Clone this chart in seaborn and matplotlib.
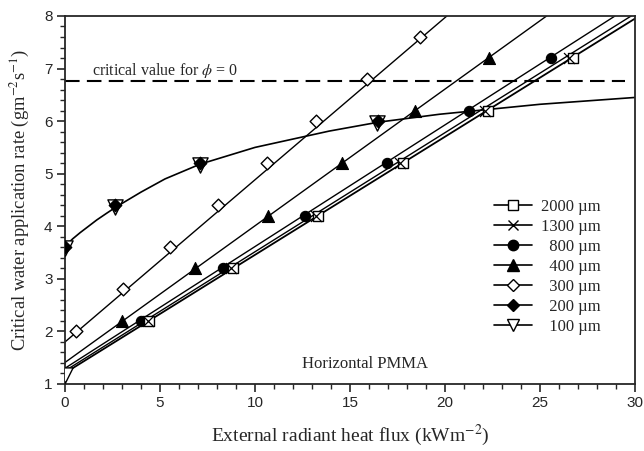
import matplotlib
matplotlib.use('Agg')
import matplotlib.pyplot as plt
from matplotlib.lines import Line2D
import seaborn as sns

# measured points (x = external radiant heat flux, y = critical water rate)
x_2000 = [4.42, 8.82, 13.3, 17.77, 22.25, 26.72]
y_2000 = [2.2, 3.2, 4.2, 5.2, 6.2, 7.2]
x_1300 = [4.35, 8.75, 13.2, 17.65, 22.1, 26.55]
y_1300 = [2.2, 3.2, 4.2, 5.2, 6.2, 7.2]
x_800 = [4.0, 8.3, 12.63, 16.93, 21.26, 25.56]
y_800 = [2.2, 3.2, 4.2, 5.2, 6.2, 7.2]
x_400 = [3.0, 6.84, 10.7, 14.6, 18.4, 22.3]
y_400 = [2.2, 3.2, 4.2, 5.2, 6.2, 7.2]
x_300 = [0.56, 3.03, 5.53, 8.07, 10.65, 13.2, 15.9, 18.7]
y_300 = [2.0, 2.8, 3.6, 4.4, 5.2, 6.0, 6.8, 7.6]
x_200 = [0.0, 2.65, 7.1, 16.45]
y_200 = [3.6, 4.4, 5.2, 6.0]
x_100 = [0.0, 0.0, 2.65, 7.08, 16.4]
y_100 = [1.17, 3.58, 4.36, 5.16, 5.96]

# fitted curves
fit_2000_x, fit_2000_y = [0, 30], [1.21, 7.95]
fit_1300_x, fit_1300_y = [0, 29.8], [1.25, 8.0]
fit_800_x, fit_800_y = [0, 28.95], [1.30, 8.0]
fit_400_x, fit_400_y = [0, 25.35], [1.41, 8.0]
fit_300_x, fit_300_y = [0, 20.1], [1.80, 8.0]
fit_thin_x = [0, 0.4, 0.8, 1.2, 1.67, 2.2, 2.7, 4.0, 5.26, 7.1, 10.0, 13.9, 16.5, 19.7, 25.0, 30.0]
fit_thin_y = [3.62, 3.76, 3.88, 3.99, 4.12, 4.25, 4.37, 4.65, 4.9, 5.18, 5.5, 5.81, 5.98, 6.13, 6.32, 6.45]

critical_value = 6.77

sns.set_style('ticks')
plt.rcParams['font.family'] = ['Liberation Serif', 'DejaVu Serif']
plt.rcParams['mathtext.fontset'] = 'stix'

fig = plt.figure(figsize=(6.44, 4.51), dpi=100)
ax = fig.add_axes([0.101, 0.1486, 0.885, 0.816])

lw = 1.0
for fx, fy, w in [(fit_2000_x, fit_2000_y, 1.3), (fit_1300_x, fit_1300_y, 1.0),
                  (fit_800_x, fit_800_y, lw), (fit_400_x, fit_400_y, lw),
                  (fit_300_x, fit_300_y, lw), (fit_thin_x, fit_thin_y, 1.2)]:
  sns.lineplot(x=fx, y=fy, ax=ax, color='k', linewidth=w, sort=False, estimator=None)

# critical value dashed line
ax.hlines(critical_value, 0, 29.5, colors='k', linestyles=(0, (7, 3.5)), linewidth=1.5)
ax.text(1.4, 6.87, r'critical value for $\phi$ = 0', fontsize=11.5, va='baseline', ha='left')

# markers
sns.scatterplot(x=x_100, y=y_100, ax=ax, marker='v', s=120, color='white', edgecolor='k', linewidth=1.0, zorder=4)
sns.scatterplot(x=x_200, y=y_200, ax=ax, marker='D', s=40, color='k', edgecolor='k', linewidth=1.0, zorder=5)
sns.scatterplot(x=x_300, y=y_300, ax=ax, marker='D', s=42, color='white', edgecolor='k', linewidth=1.0, zorder=4)
sns.scatterplot(x=x_400, y=y_400, ax=ax, marker='^', s=75, color='k', edgecolor='k', linewidth=0.8, zorder=4)
sns.scatterplot(x=x_800, y=y_800, ax=ax, marker='o', s=55, color='k', edgecolor='k', linewidth=0.8, zorder=4)
sns.scatterplot(x=x_2000, y=y_2000, ax=ax, marker='s', s=62, color='white', edgecolor='k', linewidth=1.0, zorder=4)
sns.scatterplot(x=x_1300, y=y_1300, ax=ax, marker='x', s=62, color='k', linewidth=0.9, zorder=5)

ax.set_xlim(0, 30)
ax.set_ylim(1, 8)
ax.set_xticks([0, 5, 10, 15, 20, 25, 30])
ax.set_yticks([1, 2, 3, 4, 5, 6, 7, 8])
ax.set_xticks([i for i in range(31)], minor=True)
ax.set_yticks([1 + 0.2 * i for i in range(36)], minor=True)
ax.tick_params(which='major', direction='out', length=6, width=1.2, labelsize=11, pad=3)
ax.tick_params(which='minor', direction='out', length=3.5, width=1.0)
for lab in ax.get_xticklabels() + ax.get_yticklabels():
  lab.set_family('Liberation Sans')
for sp in ax.spines.values():
  sp.set_linewidth(1.3)
  sp.set_visible(True)

ax.set_xlabel(r'External radiant heat flux (kWm$^{-2}$)', fontsize=14, labelpad=9)
ax.set_ylabel(r'Critical water application rate (gm$^{-2}$s$^{-1}$)', fontsize=13.3, labelpad=9)

ax.text(15.8, 1.22, 'Horizontal PMMA', fontsize=12, ha='center', va='bottom')

handles = [
  Line2D([], [], color='k', lw=1.2, marker='s', mfc='white', mec='k', ms=7.5),
  Line2D([], [], color='k', lw=1.2, marker='x', mfc='k', mec='k', ms=7.5),
  Line2D([], [], color='k', lw=1.2, marker='o', mfc='k', mec='k', ms=7.5),
  Line2D([], [], color='k', lw=1.2, marker='^', mfc='k', mec='k', ms=8),
  Line2D([], [], color='k', lw=1.2, marker='D', mfc='white', mec='k', ms=6),
  Line2D([], [], color='k', lw=1.2, marker='D', mfc='k', mec='k', ms=6),
  Line2D([], [], color='k', lw=1.2, marker='v', mfc='white', mec='k', ms=8),
]
labels = ['2000 \u00b5m', '1300 \u00b5m', '  800 \u00b5m', '  400 \u00b5m',
          '  300 \u00b5m', '  200 \u00b5m', '  100 \u00b5m']
ax.legend(handles, labels, loc='upper left', bbox_to_anchor=(0.738, 0.525), frameon=False,
          fontsize=12, handlelength=2.3, labelspacing=0.24, handletextpad=0.55, borderpad=0)

fig.savefig('out.png', dpi=100)
